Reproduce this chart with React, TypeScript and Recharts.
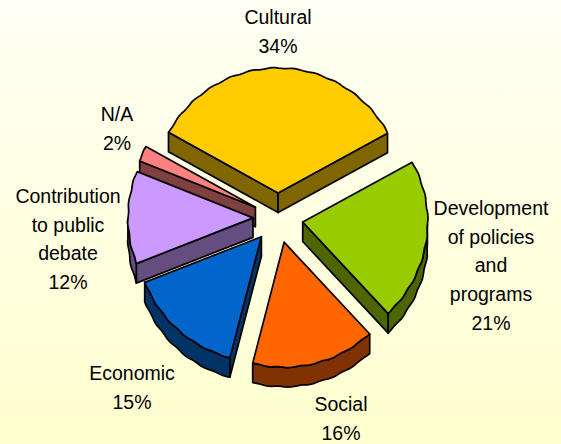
import React from "react";
import { PieChart, Pie } from "recharts";

// Clockwise from N/A, so that the back slices are painted first.
const names = ["N/A", "Cultural", "Development of policies and programs", "Social", "Economic", "Contribution to public debate"];
const values = [2, 34, 21, 16, 15, 12];
const labelLines = [
  ["N/A", "2%"],
  ["Cultural", "34%"],
  ["Development", "of policies", "and", "programs", "21%"],
  ["Social", "16%"],
  ["Economic", "15%"],
  ["Contribution", "to public", "debate", "12%"],
];
const topColors = ["#FF8080", "#FFCC00", "#99CC00", "#FF6600", "#0066CC", "#CC99FF"];
const sideColors = ["#804040", "#806600", "#4D6600", "#803300", "#003366", "#664D80"];
// label centre relative to the pie centre (first line)
const labelOffsets = [
  [-161, -104],
  [0, -201],
  [213, -10],
  [63, 186],
  [-146, 155],
  [-210, -22],
];

const W = 561;
const H = 444;
const CX = 278;
const CY = 218;
const R = 125;
const EXPLODE = 25;
const DEPTH = 19.5;
const LINE_H = 28.7;
const FONT = "'Liberation Sans', Arial, sans-serif";

const rows = names.map((name, i) => ({
  name,
  value: values[i],
  fill: topColors[i],
  side: sideColors[i],
  lines: labelLines[i],
  offset: labelOffsets[i],
}));

const rad = (d: number) => (d * Math.PI) / 180;

// theta: recharts angle (counter-clockwise from 3 o'clock)
function rim(cx: number, cy: number, r: number, theta: number, dy = 0) {
  const rr = r + 0.45 * Math.sin(rad(theta * 36));
  return [cx + rr * Math.cos(rad(theta)), cy - rr * Math.sin(rad(theta)) + dy];
}

function toPath(pts: number[][], close = true) {
  return "M" + pts.map((p) => `${p[0].toFixed(1)},${p[1].toFixed(1)}`).join("L") + (close ? "Z" : "");
}

function SliceShape(props: any) {
  const { cx, cy, outerRadius, startAngle, endAngle, midAngle, payload } = props;
  const mid = midAngle ?? (startAngle + endAngle) / 2;
  const ax = cx + EXPLODE * Math.cos(rad(mid));
  const ay = cy - EXPLODE * Math.sin(rad(mid));
  const hi = Math.max(startAngle, endAngle);
  const lo = Math.min(startAngle, endAngle);
  const steps = Math.max(4, Math.ceil((hi - lo) / 1.5));
  const arc: number[][] = [];
  const angs: number[] = [];
  for (let k = 0; k <= steps; k++) {
    const t = hi + ((lo - hi) * k) / steps;
    angs.push(t);
    arc.push(rim(ax, ay, outerRadius, t));
  }
  const top = [[ax, ay], ...arc];
  const down = (p: number[]) => [p[0], p[1] + DEPTH];
  const faces: number[][][] = [];
  // radial faces, only those that look downward
  const first = arc[0];
  const last = arc[arc.length - 1];
  if (Math.sin(rad(hi + 90)) < 0) faces.push([[ax, ay], first, down(first), [ax, ay + DEPTH]]);
  if (Math.sin(rad(lo - 90)) < 0) faces.push([[ax, ay], last, down(last), [ax, ay + DEPTH]]);
  // rim band on the front half
  const front = arc.filter((_, k) => Math.sin(rad(angs[k])) < 0);
  if (front.length > 1) faces.push([...front, ...front.slice().reverse().map(down)]);
  return (
    <g>
      {faces.map((f, i) => (
        <path key={i} d={toPath(f)} fill={payload?.side ?? props.side} stroke="#000" strokeWidth={1.7} strokeLinejoin="round" />
      ))}
      <path d={toPath(top)} fill={payload?.fill ?? props.fill} stroke="#000" strokeWidth={1.7} strokeLinejoin="round" />
    </g>
  );
}

function SliceLabel(props: any) {
  const { cx, cy, payload, lines, offset } = props;
  const ls: string[] = lines ?? payload?.lines ?? [];
  const off: number[] = offset ?? payload?.offset ?? [0, 0];
  return (
    <text x={cx + off[0]} y={cy + off[1]} textAnchor="middle" fontFamily={FONT} fontSize={19.5} fill="#000">
      {ls.map((l, i) => (
        <tspan key={i} x={cx + off[0]} y={cy + off[1] + i * LINE_H} dominantBaseline="central">
          {l}
        </tspan>
      ))}
    </text>
  );
}

export default function App() {
  return (
    <div
      style={{
        position: "absolute",
        left: 0,
        top: 0,
        width: W,
        height: H,
        background: "linear-gradient(to bottom, #FFFFF4 0%, #FFFFCF 100%)",
      }}
    >
      <PieChart width={W} height={H} margin={{ top: 0, right: 0, bottom: 0, left: 0 }}>
        <Pie
          data={rows}
          dataKey="value"
          nameKey="name"
          cx={CX}
          cy={CY}
          outerRadius={R}
          innerRadius={0}
          startAngle={158.2}
          endAngle={-201.8}
          paddingAngle={0}
          stroke="none"
          isAnimationActive={false}
          shape={SliceShape}
          labelLine={false}
          label={SliceLabel}
        />
      </PieChart>
    </div>
  );
}
